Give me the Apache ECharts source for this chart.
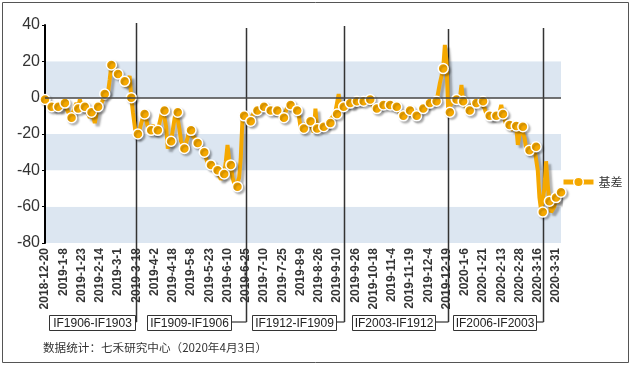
<!DOCTYPE html>
<html><head><meta charset="utf-8">
<script src="https://cdn.jsdelivr.net/npm/echarts@6/dist/echarts.min.js"></script>
<style>html,body{margin:0;padding:0;background:#fff}#c{width:632px;height:366px}</style>
</head><body><div id="c"></div><script>
// Trading calendar (weekday exchange holidays)
const holidays = ['2018-12-31','2019-1-1','2019-2-4','2019-2-5','2019-2-6','2019-2-7','2019-2-8','2019-4-5',
  '2019-5-1','2019-5-2','2019-5-3','2019-6-7','2019-9-13','2019-10-1','2019-10-2','2019-10-3','2019-10-4','2019-10-7',
  '2020-1-1','2020-1-24','2020-1-27','2020-1-28','2020-1-29','2020-1-30','2020-1-31'];
const firstDay = [2018, 12, 20];
const lastDay = [2020, 4, 3];
function tradingDays(){
  const out = [];
  let t = Date.UTC(firstDay[0], firstDay[1]-1, firstDay[2]);
  const end = Date.UTC(lastDay[0], lastDay[1]-1, lastDay[2]);
  while (t <= end) {
    const d = new Date(t);
    const s = d.getUTCFullYear() + '-' + (d.getUTCMonth()+1) + '-' + d.getUTCDate();
    const wd = d.getUTCDay();
    if (wd !== 0 && wd !== 6 && holidays.indexOf(s) < 0) out.push(s);
    t += 86400000;
  }
  return out;
}
const categories = tradingDays();

// 基差 (basis), one value per trading day
const basis = [
 -1,-3,-5,-6,-5,-6,-7,-4,-5,-7,
 -6,-3,-3,-6,-8,-10,-11,-8,-5,-3,
 -6,-1,-4,-7,-5,-6,-9,-11,-8,-10,
 -14,-9,-5,-4,-3,-1,2,1,3,10,
 18,19,16,14,13,11,12,10,9,6,
 5,12,0,-8,-15,-22,-20,-18,-14,-11,
 -9,-12,-16,-19,-18,-15,-20,-19,-18,-14,
 -10,-6,-7,-16,-28,-27,-24,-18,-12,-7,
 -8,-17,-24,-26,-28,-25,-22,-17,-18,-21,
 -20,-23,-25,-27,-26,-28,-30,-33,-36,-38,
 -37,-38,-40,-42,-40,-43,-45,-44,-42,-35,
 -26,-34,-37,-44,-47,-50,-49,-44,-33,-12,
 -10,-9,-12,-14,-13,-10,-8,-7,-7,-6,
 -5,-4,-5,-5,-6,-7,-7,-6,-8,-7,
 -7,-9,-11,-12,-11,-8,-5,-3,-4,-5,
 -7,-8,-7,-10,-16,-18,-17,-15,-13,-12,
 -13,-17,-19,-6,-17,-18,-17,-16,-16,-17,
 -15,-13,-14,-11,-10,-8,-9,2,-6,-6,
 -5,-4,-4,-3,-3,-5,-4,-2,-2,-3,
 -2,-1,-2,-1,0,-1,-1,-3,-6,-7,
 -6,-5,-4,-3,-4,-3,-2,-3,-4,-5,
 -6,-7,-5,-7,-9,-10,-10,-8,-7,-6,
 -7,-9,-11,-11,-10,-9,-7,-6,-6,-5,
 -4,-3,-3,-2,-2,-1,-2,3,8,12,
 16,29,20,-7,-8,-3,-1,0,-1,-2,
 -1,7,-2,-4,-6,-7,-7,-4,-3,-2,
 -3,-2,-1,-3,-2,-6,-9,-10,-10,-12,
 -11,-8,-10,-11,-8,-4,-9,-12,-15,-14,
 -15,-16,-18,-14,-15.6,-26,-20,-17,-16,-22,
 -28,-30,-29,-26,-27,-28,-27,-40,-55,-62,
 -63,-50,-35,-48,-57,-63,-64,-60,-55,-58,
 -54,-52
];

// Contract roll annotations
const rollDates = ['2019-3-18','2019-6-25','2019-9-17','2019-12-20','2020-3-19'];
const contracts = ['IF1906-IF1903','IF1909-IF1906','IF1912-IF1909','IF2003-IF1912','IF2006-IF2003'];
const yMin = -80, yMax = 40, yStep = 20;
const seriesName = '基差';
const footnote = '数据统计：七禾研究中心（2020年4月3日）';

// layout (annotation placement)
const lineTops = [23, 28, 26, 29, 28];
const boxLefts = [49, 147, 252, 352, 453];
const boxWidths = [86, 84, 84, 83, 83];
const boxTop = 315, boxH = 15;

const ORANGE = '#f5a800';
const chart = echarts.init(document.getElementById('c'), null, {renderer: 'canvas'});
const lastIdx = basis.length - 1;
chart.setOption({
  animation: false,
  backgroundColor: '#fff',
  textStyle: {fontFamily: 'Liberation Sans, Arial, sans-serif'},
  grid: {left: 45, top: 25, right: 71, bottom: 123, containLabel: false},
  legend: {
    data: [seriesName], left: 556, top: 171, itemWidth: 30, itemHeight: 12,
    lineStyle: {width: 5, color: ORANGE},
    itemStyle: {color: ORANGE, borderColor: '#fff', borderWidth: 1.5},
    textStyle: {fontSize: 12, color: '#333', fontFamily: 'Noto Sans CJK SC'}
  },
  xAxis: {
    type: 'category', data: categories, boundaryGap: false,
    axisLine: {show: false}, axisTick: {show: false}, splitLine: {show: false},
    axisLabel: {interval: 10, rotate: 90, fontSize: 12, fontWeight: 'bold', color: '#333', margin: 5,
      fontFamily: 'Liberation Sans, Arial, sans-serif'}
  },
  yAxis: {
    type: 'value', min: yMin, max: yMax, interval: yStep,
    axisLine: {show: true, lineStyle: {color: '#000', width: 2}},
    axisTick: {show: true, length: 3, lineStyle: {color: '#000'}},
    axisLabel: {fontSize: 16, color: '#333', margin: 5, fontFamily: 'Liberation Sans, Arial, sans-serif'},
    splitLine: {show: false},
    splitArea: {show: true, areaStyle: {color: ['#dce6f1', '#ffffff']}}
  },
  series: [{
    name: seriesName, type: 'line', data: basis,
    showSymbol: true, showAllSymbol: true, symbol: 'circle',
    symbolSize: function (v, p) { return (p.dataIndex % 4 === 0 || p.dataIndex === lastIdx) ? 10 : 0; },
    itemStyle: {color: ORANGE, borderColor: '#fff', borderWidth: 1.5,
      shadowColor: 'rgba(0,0,0,0.25)', shadowOffsetX: 2, shadowOffsetY: 2, shadowBlur: 2},
    lineStyle: {color: ORANGE, width: 4,
      shadowColor: 'rgba(0,0,0,0.3)', shadowOffsetX: 3, shadowOffsetY: 3, shadowBlur: 2},
    markLine: {silent: true, symbol: ['none', 'none'], label: {show: false},
      lineStyle: {color: '#444', width: 1.5, type: 'solid'}, data: [{yAxis: 0}]},
    z: 3
  }]
});

const graphics = [];
graphics.push({type: 'rect', shape: {x: 2.5, y: 2.5, width: 626, height: 360},
  style: {fill: 'none', stroke: '#555', lineWidth: 1}, silent: true, z: 0});
rollDates.forEach(function (d, i) {
  const x = Math.round(chart.convertToPixel({xAxisIndex: 0}, d)) + 0.5;
  const yMid = boxTop + 7;
  graphics.push({type: 'line', shape: {x1: x, y1: lineTops[i], x2: x, y2: yMid},
    style: {stroke: '#333', lineWidth: 1.5}, z: 1, silent: true});
  graphics.push({type: 'line', shape: {x1: boxLefts[i] + boxWidths[i], y1: yMid, x2: x, y2: yMid},
    style: {stroke: '#333', lineWidth: 1.2}, z: 1, silent: true});
  graphics.push({type: 'rect', shape: {x: boxLefts[i] + 0.5, y: boxTop + 0.5, width: boxWidths[i], height: boxH},
    style: {fill: '#fff', stroke: '#333', lineWidth: 1}, z: 5, silent: true});
  graphics.push({type: 'text', x: boxLefts[i] + boxWidths[i] / 2 + 0.5, y: boxTop + boxH / 2 + 1,
    style: {text: contracts[i], fill: '#222', font: '12px "Liberation Sans", Arial, sans-serif',
      align: 'center', verticalAlign: 'middle'}, z: 6, silent: true});
});
graphics.push({type: 'text', x: 43, y: 348,
  style: {text: footnote, fill: '#333', font: '11.6px "Noto Sans CJK SC", sans-serif', verticalAlign: 'middle'},
  z: 6, silent: true});
chart.setOption({graphic: graphics});
</script></body></html>
